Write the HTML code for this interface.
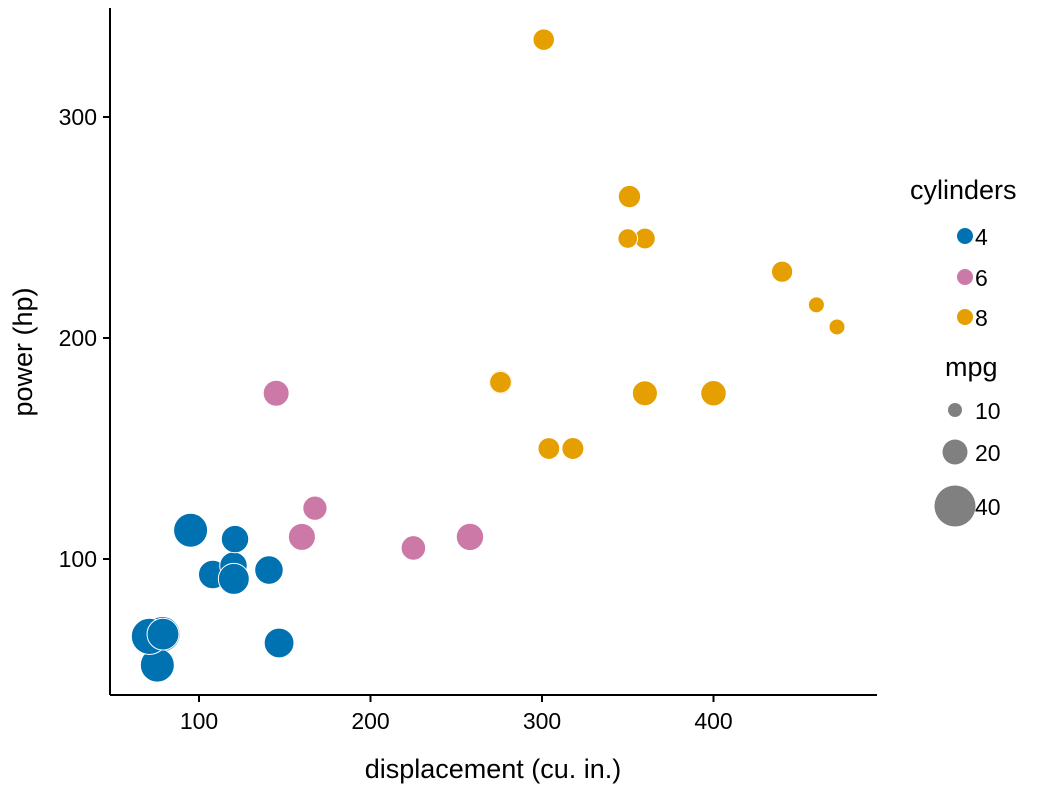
<!DOCTYPE html>
<html><head><meta charset="utf-8"><style>
body{margin:0;background:#fff}
svg{font-family:"Liberation Sans",sans-serif}
</style></head><body>
<svg width="1056" height="792" xmlns="http://www.w3.org/2000/svg">
<g id="plot"></g>
<line x1="110" y1="8" x2="110" y2="695" stroke="#000" stroke-width="2"/>
<line x1="110" y1="695" x2="877" y2="695" stroke="#000" stroke-width="2"/>
<g id="axes"></g>
<text x="493" y="778" font-size="27" text-anchor="middle">displacement (cu. in.)</text>
<text transform="translate(32,352) rotate(-90)" font-size="27" text-anchor="middle">power (hp)</text>
<g>
<text x="910" y="199" font-size="27">cylinders</text>
<circle cx="965" cy="236" r="8" fill="#0072B2"/>
<text x="975" y="245" font-size="23">4</text>
<circle cx="965" cy="277" r="8" fill="#CC79A7"/>
<text x="975" y="286" font-size="23">6</text>
<circle cx="965" cy="317" r="8" fill="#E69F00"/>
<text x="975" y="326" font-size="23">8</text>
<text x="945" y="376" font-size="27">mpg</text>
<circle cx="955" cy="410" r="7" fill="#808080"/>
<text x="975" y="419" font-size="23">10</text>
<circle cx="955" cy="452" r="12.5" fill="#808080"/>
<text x="975" y="461" font-size="23">20</text>
<circle cx="955" cy="506" r="20.5" fill="#808080"/>
<text x="975" y="515" font-size="23">40</text>
</g>
</svg>
<script>
const disp=[160,160,108,258,360,225,360,146.7,140.8,167.6,167.6,275.8,275.8,275.8,472,460,440,78.7,75.7,71.1,120.1,318,304,350,400,79,120.3,95.1,351,145,301,121];
const hp=[110,110,93,110,175,105,245,62,95,123,123,180,180,180,205,215,230,66,52,65,97,150,150,245,175,66,91,113,264,175,335,109];
const cyl=[6,6,4,6,8,6,8,4,4,6,6,8,8,8,8,8,8,4,4,4,4,8,8,8,8,4,4,4,8,6,8,4];
const mpg=[21,21,22.8,21.4,18.7,18.1,14.3,24.4,22.8,19.2,17.8,16.4,17.3,15.2,10.4,10.4,14.7,32.4,30.4,33.9,21.5,15.5,15.2,13.3,19.2,27.3,26,30.4,15.8,19.7,15,21.4];
const xTicks=[100,200,300,400];
const yTicks=[100,200,300];
const colors={4:"#0072B2",6:"#CC79A7",8:"#E69F00"};
const X=v=>199+(v-100)*1.715;
const Y=v=>559-(v-100)*2.21;
const R=m=>Math.sqrt(Math.max(4,-53+11.25*m));
const ns="http://www.w3.org/2000/svg";
const plot=document.getElementById('plot'),axes=document.getElementById('axes');
for(let i=0;i<disp.length;i++){
 const c=document.createElementNS(ns,'circle');
 c.setAttribute('cx',X(disp[i]));c.setAttribute('cy',Y(hp[i]));c.setAttribute('r',R(mpg[i]));
 c.setAttribute('fill',colors[cyl[i]]);c.setAttribute('stroke','#fff');c.setAttribute('stroke-width','1');
 
 
 plot.appendChild(c);
}
xTicks.forEach(t=>{
 const l=document.createElementNS(ns,'line');
 l.setAttribute('x1',X(t));l.setAttribute('x2',X(t));l.setAttribute('y1',695);l.setAttribute('y2',702);l.setAttribute('stroke','#000');l.setAttribute('stroke-width','2');
 
 
 axes.appendChild(l);
 const tx=document.createElementNS(ns,'text');
 tx.setAttribute('x',X(t));tx.setAttribute('y',729);tx.setAttribute('font-size','23');tx.setAttribute('text-anchor','middle');tx.textContent=t;
 
 
 axes.appendChild(tx);
});
yTicks.forEach(t=>{
 const l=document.createElementNS(ns,'line');
 l.setAttribute('x1',103);l.setAttribute('x2',110);l.setAttribute('y1',Y(t));l.setAttribute('y2',Y(t));l.setAttribute('stroke','#000');l.setAttribute('stroke-width','2');
 
 
 axes.appendChild(l);
 const tx=document.createElementNS(ns,'text');
 tx.setAttribute('x',97);tx.setAttribute('y',Y(t)+8);tx.setAttribute('font-size','23');tx.setAttribute('text-anchor','end');tx.textContent=t;
 
 
 axes.appendChild(tx);
});
</script>
</body></html>
